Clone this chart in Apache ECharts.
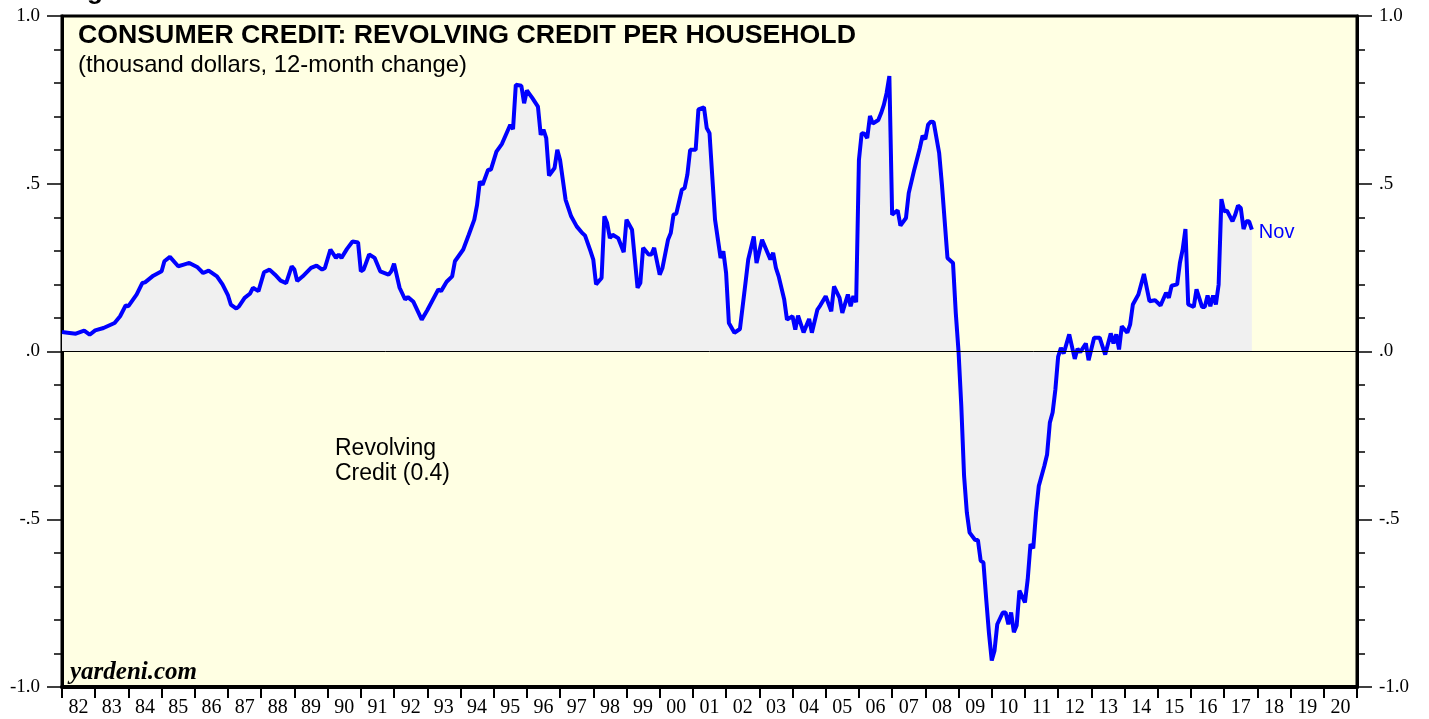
<!DOCTYPE html>
<html>
<head>
<meta charset="utf-8">
<script src="https://cdn.jsdelivr.net/npm/echarts@6/dist/echarts.min.js"></script>
<style>
	html, body { margin: 0; padding: 0; background: #fff; }
</style>
</head>
<body>
<div id="chart1" style="width: 1429px; height: 719px"></div>

<script>
	// year labels along the bottom (one band per year, 1982-2020)
	const yearLabels = ['82','83','84','85','86','87','88','89','90','91','92','93','94','95','96','97','98','99',
		'00','01','02','03','04','05','06','07','08','09','10','11','12','13','14','15','16','17','18','19','20'];
	const firstYear = 1982;

	const yTicks = { '1': '1.0', '0.5': '.5', '0': '.0', '-0.5': '-.5', '-1': '-1.0' };

	// revolving credit per household, thousand dollars, 12-month change
	const dates = [
		'1982-01','1982-03','1982-06','1982-09','1982-11',
		'1983-01','1983-04','1983-08','1983-10','1983-12',
		'1984-01','1984-04','1984-06','1984-07','1984-10',
		'1985-01','1985-02','1985-04','1985-07','1985-09','1985-11',
		'1986-02','1986-04','1986-06','1986-09','1986-11',
		'1987-01','1987-02','1987-04','1987-05','1987-07','1987-09','1987-10','1987-12',
		'1988-02','1988-04','1988-06','1988-08','1988-10','1988-12',
		'1989-01','1989-02','1989-04','1989-07','1989-09','1989-11','1989-12',
		'1990-02','1990-04','1990-05','1990-06','1990-08','1990-10','1990-12',
		'1991-01','1991-02','1991-04','1991-06','1991-08','1991-11','1991-12',
		'1992-01','1992-03','1992-05','1992-06','1992-08','1992-11',
		'1993-01','1993-05','1993-06','1993-08','1993-10','1993-11',
		'1994-02','1994-04','1994-06','1994-07','1994-08','1994-09','1994-11','1994-12',
		'1995-02','1995-04','1995-07','1995-08','1995-09','1995-11','1995-12',
		'1996-01','1996-03','1996-05','1996-06','1996-07','1996-08','1996-09','1996-11','1996-12',
		'1997-01','1997-03','1997-05','1997-07','1997-09','1997-10','1997-12',
		'1998-01','1998-02','1998-04','1998-05','1998-06','1998-07','1998-08','1998-10','1998-12',
		'1999-01','1999-03','1999-05','1999-06','1999-07','1999-09','1999-10','1999-11',
		'2000-01','2000-02','2000-04','2000-05','2000-06','2000-07','2000-09','2000-10','2000-11','2000-12',
		'2001-02','2001-03','2001-05','2001-06','2001-07','2001-08','2001-09','2001-11','2001-12',
		'2002-01','2002-02','2002-04','2002-06','2002-08','2002-09','2002-11','2002-12',
		'2003-02','2003-05','2003-06','2003-07','2003-08','2003-10','2003-11',
		'2004-01','2004-02','2004-03','2004-05','2004-07','2004-08','2004-10','2004-11',
		'2005-01','2005-03','2005-04','2005-06','2005-07','2005-09','2005-10','2005-11','2005-12',
		'2006-01','2006-02','2006-03','2006-04','2006-05','2006-06','2006-08','2006-09','2006-10','2006-11','2006-12',
		'2007-01','2007-03','2007-04','2007-06','2007-07','2007-09','2007-11','2007-12',
		'2008-01','2008-02','2008-03','2008-04','2008-06','2008-07','2008-09','2008-11','2008-12',
		'2009-01','2009-02','2009-03','2009-04','2009-05','2009-07','2009-08','2009-09','2009-10','2009-11','2009-12',
		'2010-01','2010-02','2010-03','2010-05','2010-06','2010-07','2010-08','2010-09','2010-10','2010-11',
		'2011-01','2011-02','2011-03','2011-04','2011-05','2011-06','2011-08','2011-09','2011-10','2011-11','2011-12',
		'2012-01','2012-02','2012-03','2012-05','2012-07','2012-08','2012-09','2012-11','2012-12',
		'2013-02','2013-04','2013-06','2013-08','2013-09','2013-10','2013-11','2013-12',
		'2014-02','2014-03','2014-04','2014-06','2014-08','2014-10','2014-12',
		'2015-02','2015-04','2015-05','2015-06','2015-08','2015-09','2015-10','2015-11','2015-12',
		'2016-02','2016-03','2016-05','2016-06','2016-07','2016-08','2016-09','2016-10','2016-11','2016-12',
		'2017-01','2017-02','2017-04','2017-05','2017-06','2017-07','2017-08','2017-09','2017-10','2017-11'
	];
	const credit = [
		0.058, 0.056, 0.053, 0.062, 0.050,
		0.063, 0.070, 0.085, 0.105, 0.137,
		0.135, 0.170, 0.204, 0.206, 0.226,
		0.239, 0.269, 0.282, 0.254, 0.259, 0.264,
		0.251, 0.234, 0.241, 0.224, 0.200,
		0.167, 0.140, 0.128, 0.135, 0.160, 0.173, 0.190, 0.180,
		0.236, 0.244, 0.229, 0.211, 0.204, 0.254,
		0.244, 0.210, 0.224, 0.249, 0.256, 0.244, 0.249,
		0.304, 0.279, 0.289, 0.279, 0.306, 0.328, 0.325,
		0.239, 0.244, 0.289, 0.279, 0.239, 0.229, 0.239,
		0.262, 0.190, 0.155, 0.162, 0.148, 0.095,
		0.123, 0.185, 0.180, 0.208, 0.224, 0.269,
		0.304, 0.348, 0.393, 0.437, 0.507, 0.497, 0.542, 0.542,
		0.596, 0.619, 0.676, 0.663, 0.795, 0.792, 0.740,
		0.778, 0.755, 0.730, 0.646, 0.661, 0.636, 0.524, 0.547, 0.601,
		0.571, 0.452, 0.403, 0.373, 0.353, 0.346, 0.299,
		0.274, 0.200, 0.219, 0.403, 0.383, 0.338, 0.348, 0.338, 0.296,
		0.393, 0.363, 0.190, 0.204, 0.309, 0.289, 0.289, 0.309,
		0.229, 0.249, 0.333, 0.353, 0.408, 0.411, 0.482, 0.487, 0.527, 0.601,
		0.601, 0.722, 0.728, 0.666, 0.651, 0.522, 0.393, 0.279, 0.299,
		0.234, 0.085, 0.056, 0.067, 0.204, 0.274, 0.343, 0.264,
		0.333, 0.274, 0.294, 0.249, 0.224, 0.155, 0.095,
		0.105, 0.065, 0.107, 0.057, 0.097, 0.056, 0.125, 0.137,
		0.165, 0.120, 0.194, 0.160, 0.115, 0.170, 0.135, 0.165, 0.147,
		0.571, 0.651, 0.649, 0.636, 0.702, 0.679, 0.690, 0.710, 0.735, 0.770, 0.821,
		0.408, 0.421, 0.375, 0.398, 0.472, 0.542, 0.606, 0.643,
		0.633, 0.676, 0.685, 0.684, 0.591, 0.497, 0.279, 0.264, 0.115,
		0.000, -0.163, -0.371, -0.480, -0.540, -0.562, -0.562, -0.624, -0.629, -0.738, -0.840,
		-0.921, -0.892, -0.813, -0.778, -0.778, -0.813, -0.778, -0.837, -0.817, -0.713,
		-0.748, -0.679, -0.574, -0.587, -0.480, -0.401, -0.341, -0.307, -0.212, -0.182, -0.113,
		-0.015, 0.011, -0.006, 0.051, -0.022, 0.008, -0.002, 0.024, -0.026,
		0.041, 0.041, -0.009, 0.054, 0.024, 0.051, 0.006, 0.075,
		0.056, 0.080, 0.140, 0.170, 0.231, 0.150, 0.153,
		0.137, 0.175, 0.160, 0.196, 0.200, 0.264, 0.304, 0.365, 0.140,
		0.133, 0.185, 0.133, 0.133, 0.167, 0.135, 0.167, 0.140, 0.200, 0.454,
		0.418, 0.420, 0.388, 0.408, 0.435, 0.428, 0.365, 0.388, 0.388, 0.363
	];

	// month index since Jan 1982 for the hidden value axis
	function monthIndex(d) {
		var p = d.split('-');
		return (parseInt(p[0]) - firstYear) * 12 + parseInt(p[1]) - 1;
	}
	var seriesData = dates.map(function (d, i) { return [monthIndex(d), credit[i]]; });

	var chart1 = echarts.init(document.getElementById('chart1'));

	var yAxisBase = {
		type: 'value',
		min: -1,
		max: 1,
		interval: 0.5,
		splitLine: { show: false },
		axisLine: { show: true, lineStyle: { color: '#000', width: 3 } },
		axisTick: { show: true, length: 15, lineStyle: { color: '#000', width: 1.5 } },
		minorTick: { show: true, splitNumber: 5, length: 8, lineStyle: { color: '#000', width: 1.5 } },
		axisLabel: {
			margin: 22,
			color: '#000',
			fontFamily: 'Liberation Serif',
			fontSize: 19,
			formatter: function (v) { return yTicks[String(v)] || ''; }
		}
	};

	var chart1_option = {
		animation: false,
		backgroundColor: '#fff',
		grid: {
			left: 62, right: 72, top: 16, bottom: 32,
			show: true,
			backgroundColor: '#ffffe3',
			borderColor: '#000',
			borderWidth: 3
		},
		xAxis: [{
			type: 'category',
			data: yearLabels,
			boundaryGap: true,
			position: 'bottom',
			axisLine: { show: true, onZero: false, lineStyle: { color: '#000', width: 4 } },
			axisTick: { show: true, length: 11, interval: 0, lineStyle: { color: '#000', width: 2 } },
			axisLabel: {
				interval: 0,
				margin: 11,
				color: '#000',
				fontFamily: 'Liberation Serif',
				fontSize: 20
			},
			splitLine: { show: false }
		}, {
			type: 'value',
			min: 0,
			max: yearLabels.length * 12,
			show: false
		}],
		yAxis: [
			Object.assign({}, yAxisBase, { position: 'left' }),
			Object.assign({}, yAxisBase, { position: 'right' })
		],
		series: [{
			type: 'line',
			xAxisIndex: 1,
			yAxisIndex: 0,
			data: seriesData,
			showSymbol: false,
			lineStyle: { color: '#0000ff', width: 4 },
			itemStyle: { color: '#0000ff' },
			areaStyle: { color: '#f0f0f0', opacity: 1, origin: 0 },
			endLabel: {
				show: true,
				formatter: 'Nov',
				color: '#0000ff',
				fontFamily: 'Liberation Sans',
				fontSize: 20,
				distance: 7,
				offset: [0, 3]
			},
			markLine: {
				silent: true,
				symbol: 'none',
				label: { show: false },
				lineStyle: { color: '#000', width: 1, type: 'solid' },
				data: [{ yAxis: 0 }]
			}
		}],
		graphic: [{
			type: 'text', left: 64, top: -21,
			style: { text: 'Figure 6.', fill: '#000', font: 'bold 26px "Liberation Sans"' }
		}, {
			type: 'text', left: 78, top: 22,
			style: { text: 'CONSUMER CREDIT: REVOLVING CREDIT PER HOUSEHOLD', fill: '#000', font: 'bold 26.7px "Liberation Sans"' }
		}, {
			type: 'text', left: 78, top: 53,
			style: { text: '(thousand dollars, 12-month change)', fill: '#000', font: '23.8px "Liberation Sans"' }
		}, {
			type: 'text', left: 335, top: 436,
			style: { text: 'Revolving\nCredit (0.4)', fill: '#000', font: '23px "Liberation Sans"', lineHeight: 25 }
		}, {
			type: 'text', left: 70, top: 660,
			style: { text: 'yardeni.com', fill: '#000', font: 'italic bold 25px "Liberation Serif"' }
		}]
	};

	chart1.setOption(chart1_option);
</script>
</body>
</html>
